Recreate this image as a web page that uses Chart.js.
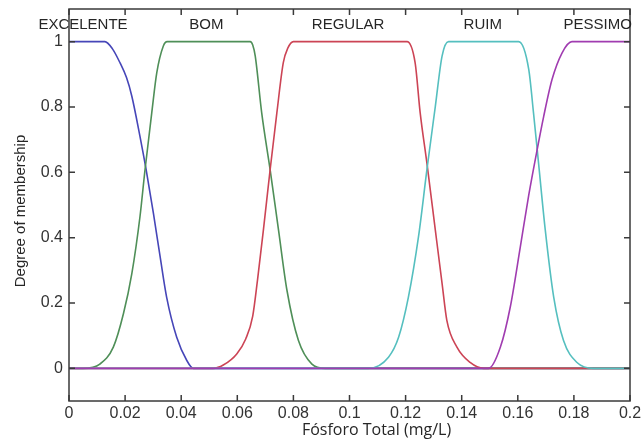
<!DOCTYPE html>
<html><head><meta charset="utf-8">
<script src="https://cdn.jsdelivr.net/npm/chart.js@4/dist/chart.umd.min.js"></script>
<style>html,body{margin:0;padding:0;background:#fff}</style>
</head><body>
<canvas id="c" width="641" height="448"></canvas>
<script>
// ---- data ----
const mfNames = ['EXCELENTE', 'BOM', 'REGULAR', 'RUIM', 'PESSIMO'];
const labelAt = [0.005, 0.049, 0.0995, 0.1475, 0.1885];
const xTicks = [0, 0.02, 0.04, 0.06, 0.08, 0.1, 0.12, 0.14, 0.16, 0.18, 0.2];
const yTicks = [0, 0.2, 0.4, 0.6, 0.8, 1];
const xTitle = 'Fósforo Total (mg/L)';
const yTitle = 'Degree of membership';

const excX = [0, 0.0128, 0.0155, 0.0182, 0.0205, 0.0224, 0.0253, 0.0275, 0.0301, 0.0325, 0.0348, 0.0384, 0.042, 0.0443, 0.2];
const excY = [1, 1, 0.978, 0.935, 0.89, 0.833, 0.71, 0.608, 0.474, 0.341, 0.218, 0.095, 0.024, 0, 0];

const bomX = [0, 0.0051, 0.011, 0.0158, 0.0194, 0.0224, 0.0253, 0.0271, 0.0295, 0.0313, 0.0336, 0.035, 0.0646, 0.0655, 0.0664, 0.0687, 0.0717, 0.0747, 0.0777, 0.0818, 0.0866, 0.0913, 0.2];
const bomY = [0, 0, 0.013, 0.065, 0.167, 0.29, 0.464, 0.608, 0.782, 0.905, 0.986, 1, 1, 0.99, 0.956, 0.782, 0.608, 0.423, 0.239, 0.085, 0.013, 0, 0];

const regX = [0, 0.0515, 0.055, 0.0598, 0.063, 0.0655, 0.0672, 0.0693, 0.0717, 0.0741, 0.0764, 0.078, 0.08, 0.1205, 0.1234, 0.1252, 0.1276, 0.1306, 0.133, 0.1347, 0.1383, 0.143, 0.1478, 0.2];
const regY = [0, 0, 0.01, 0.044, 0.09, 0.16, 0.27, 0.423, 0.608, 0.782, 0.936, 0.98, 1, 1, 0.935, 0.782, 0.628, 0.423, 0.26, 0.147, 0.065, 0.018, 0, 0];

const ruimX = [0, 0.1068, 0.1139, 0.1175, 0.121, 0.1246, 0.1276, 0.1306, 0.133, 0.1353, 0.1603, 0.1639, 0.1656, 0.1674, 0.1698, 0.1728, 0.1763, 0.1811, 0.187, 0.2];
const ruimY = [0, 0, 0.034, 0.095, 0.218, 0.403, 0.608, 0.802, 0.956, 1, 1, 0.915, 0.782, 0.628, 0.423, 0.218, 0.085, 0.018, 0, 0];

const pesX = [0, 0.1496, 0.1538, 0.1573, 0.1609, 0.1639, 0.1668, 0.1692, 0.1722, 0.1758, 0.1793, 0.2];
const pesY = [0, 0, 0.065, 0.187, 0.372, 0.53, 0.665, 0.77, 0.884, 0.966, 1, 1];

// ---- chart ----
const seriesX = [excX, bomX, regX, ruimX, pesX];
const seriesY = [excY, bomY, regY, ruimY, pesY];
const colors = ['#4646b8', '#4f8f58', '#cc4455', '#55bfbf', '#a03cb0'];

const datasets = mfNames.map((n, i) => ({
  label: n,
  data: seriesX[i].map((x, j) => ({ x: x, y: seriesY[i][j] })),
  borderColor: colors[i],
  backgroundColor: colors[i],
  borderWidth: 1.6,
  pointRadius: 0,
  fill: false,
  cubicInterpolationMode: 'monotone',
  order: mfNames.length - 1 - i
}));

const fmt = v => String(Math.round(v * 100) / 100);
const tickFont = { family: '"Liberation Sans", Arial, sans-serif', size: 16 };

const decor = {
  id: 'decor',
  afterDraw(chart) {
    const { ctx, chartArea: a, scales: { x, y } } = chart;
    ctx.save();
    ctx.strokeStyle = '#3a3a3a';
    ctx.lineWidth = 1.5;
    ctx.strokeRect(a.left, a.top, a.right - a.left, a.bottom - a.top);
    ctx.beginPath();
    xTicks.forEach(v => {
      const px = x.getPixelForValue(v);
      ctx.moveTo(px, a.bottom); ctx.lineTo(px, a.bottom - 6);
      ctx.moveTo(px, a.top); ctx.lineTo(px, a.top + 6);
    });
    yTicks.forEach(v => {
      const py = y.getPixelForValue(v);
      ctx.moveTo(a.left, py); ctx.lineTo(a.left + 6, py);
      ctx.moveTo(a.right, py); ctx.lineTo(a.right - 6, py);
    });
    ctx.stroke();

    ctx.fillStyle = '#262626';
    ctx.textAlign = 'center';
    ctx.textBaseline = 'middle';
    ctx.font = '15px "Liberation Sans", Arial, sans-serif';
    mfNames.forEach((n, i) => {
      ctx.fillText(n, x.getPixelForValue(labelAt[i]), y.getPixelForValue(1.05));
    });

    ctx.font = '16px "Open Sans", sans-serif';
    ctx.fillText(xTitle, (a.left + a.right) / 2 + 27, a.bottom + 29);

    ctx.save();
    ctx.translate(21, (a.top + a.bottom) / 2 + 6);
    ctx.rotate(-Math.PI / 2);
    ctx.font = '15px "Liberation Sans", Arial, sans-serif';
    ctx.fillText(yTitle, 0, 0);
    ctx.restore();
    ctx.restore();
  }
};

new Chart(document.getElementById('c'), {
  type: 'line',
  data: { datasets },
  plugins: [decor],
  options: {
    responsive: false,
    animation: false,
    devicePixelRatio: 1,
    layout: { padding: { top: 9, right: 11, left: 0, bottom: 0 } },
    plugins: { legend: { display: false }, tooltip: { enabled: false } },
    scales: {
      x: {
        type: 'linear', min: 0, max: 0.2,
        grid: { display: false, drawTicks: false }, border: { display: false },
        afterBuildTicks: s => { s.ticks = xTicks.map(v => ({ value: v })); },
        ticks: { padding: 3, font: tickFont, color: '#333', autoSkip: false, maxRotation: 0, callback: v => fmt(v) },
        afterFit: s => { s.height = 47; s.paddingLeft = 0; s.paddingRight = 0; }
      },
      y: {
        type: 'linear', min: -0.1, max: 1.1,
        grid: { display: false, drawTicks: false }, border: { display: false },
        afterBuildTicks: s => { s.ticks = yTicks.map(v => ({ value: v })); },
        ticks: { padding: 6, font: tickFont, color: '#333', callback: v => fmt(v) },
        afterFit: s => { s.width = 69; s.paddingTop = 0; s.paddingBottom = 0; }
      }
    }
  }
});
</script>
</body></html>
